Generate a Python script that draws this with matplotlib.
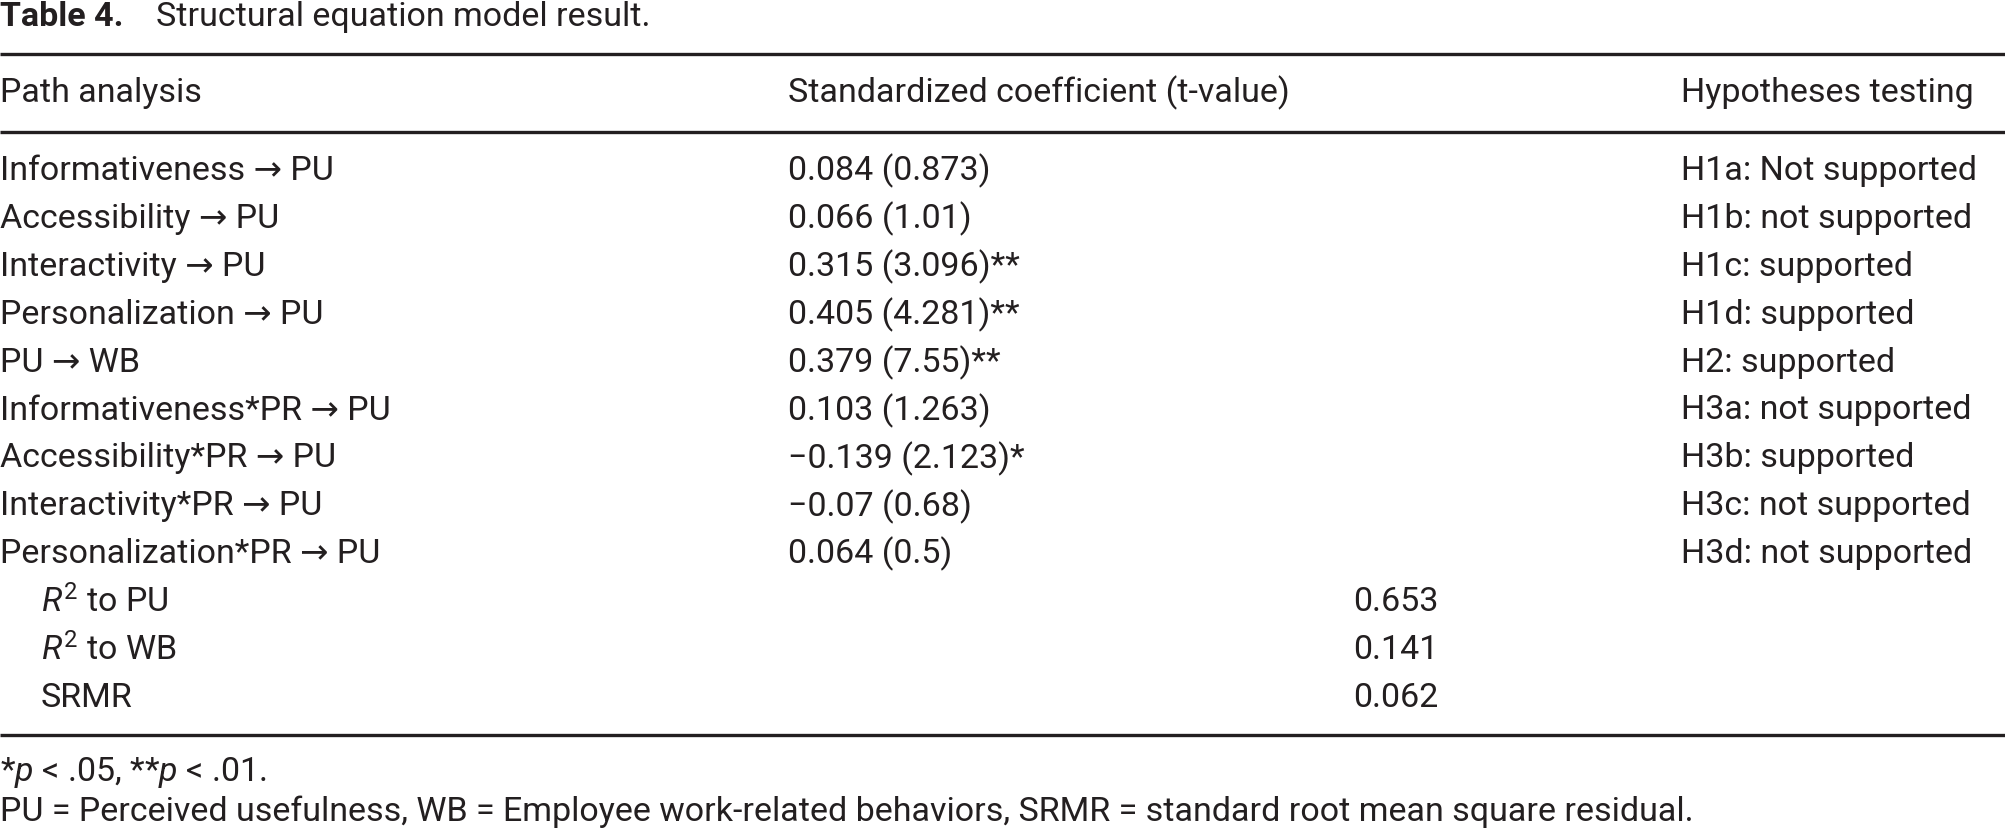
import matplotlib
matplotlib.use("Agg")
import matplotlib.pyplot as plt

plt.rcParams['font.family'] = ['Roboto', 'DejaVu Sans']
plt.rcParams['mathtext.fontset'] = 'custom'
plt.rcParams['mathtext.rm'] = 'Roboto'
plt.rcParams['mathtext.it'] = 'Roboto:italic'

INK = '#231f20'

title_bold = "Table 4."
title_rest = "Structural equation model result."
headers = ["Path analysis", "Standardized coefficient (t-value)", "Hypotheses testing"]

paths = [
    "Informativeness \u2192 PU",
    "Accessibility \u2192 PU",
    "Interactivity \u2192 PU",
    "Personalization \u2192 PU",
    "PU \u2192 WB",
    "Informativeness*PR \u2192 PU",
    "Accessibility*PR \u2192 PU",
    "Interactivity*PR \u2192 PU",
    "Personalization*PR \u2192 PU",
]
coefs = [
    "0.084 (0.873)",
    "0.066 (1.01)",
    "0.315 (3.096)**",
    "0.405 (4.281)**",
    "0.379 (7.55)**",
    "0.103 (1.263)",
    "\u22120.139 (2.123)*",
    "\u22120.07 (0.68)",
    "0.064 (0.5)",
]
hypotheses = [
    "H1a: Not supported",
    "H1b: not supported",
    "H1c: supported",
    "H1d: supported",
    "H2: supported",
    "H3a: not supported",
    "H3b: supported",
    "H3c: not supported",
    "H3d: not supported",
]
fit_labels = [r"$\mathit{R}^{2}$ to PU", r"$\mathit{R}^{2}$ to WB", "SRMR"]
fit_values = ["0.653", "0.141", "0.062"]

note1 = r"*$\mathit{p}$ < .05, **$\mathit{p}$ < .01."
note2 = "PU = Perceived usefulness, WB = Employee work-related behaviors, SRMR = standard root mean square residual."

W, H = 2006, 831
fig = plt.figure(figsize=(W / 100, H / 100), dpi=100)
ax = fig.add_axes([0, 0, 1, 1])
ax.set_xlim(0, W)
ax.set_ylim(H, 0)
ax.axis('off')

fs = 24.5

col_x = [0, 788, 1681]
val_x = 1353
indent = 41

ax.text(0, 17, title_bold, fontsize=fs, fontweight='bold', color=INK, va='center', ha='left')
ax.text(156, 17, title_rest, fontsize=fs, color=INK, va='center', ha='left')

for y in (54, 132, 735):
    ax.plot([0, W], [y, y], color=INK, lw=2.4, solid_capstyle='butt')

for x, h in zip(col_x, headers):
    ax.text(x, 93, h, fontsize=fs, color=INK, va='center', ha='left')

row_y0, row_h = 171, 47.9
for i, (p, c, hy) in enumerate(zip(paths, coefs, hypotheses)):
    y = row_y0 + i * row_h
    ax.text(col_x[0], y, p, fontsize=fs, color=INK, va='center', ha='left')
    ax.text(col_x[1], y, c, fontsize=fs, color=INK, va='center', ha='left')
    ax.text(col_x[2], y, hy, fontsize=fs, color=INK, va='center', ha='left')

for j, (lab, v) in enumerate(zip(fit_labels, fit_values)):
    y = row_y0 + (len(paths) + j) * row_h
    ax.text(indent, y, lab, fontsize=fs, color=INK, va='center', ha='left')
    ax.text(val_x, y, v, fontsize=fs, color=INK, va='center', ha='left')

ax.text(0, 773, note1, fontsize=fs, color=INK, va='center', ha='left')
ax.text(0, 812, note2, fontsize=fs, color=INK, va='center', ha='left')

fig.savefig("out.png", dpi=100, facecolor='white')
plt.close(fig)
